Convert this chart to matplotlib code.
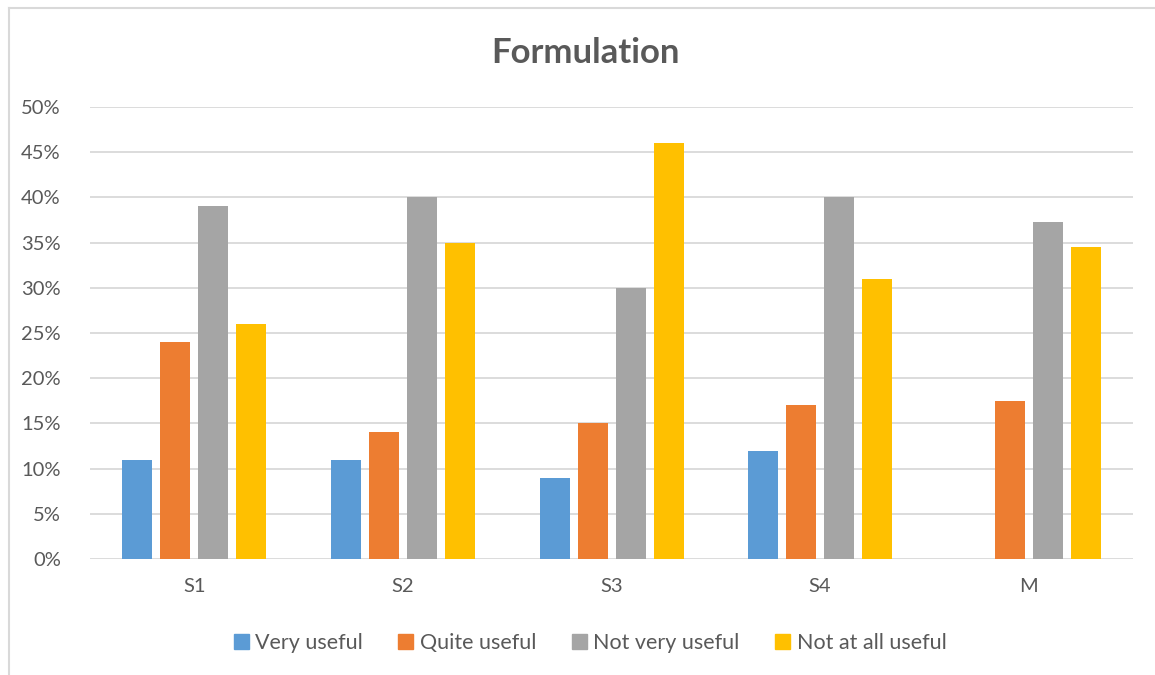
import matplotlib
matplotlib.use("Agg")
import matplotlib.pyplot as plt
import numpy as np
from matplotlib.lines import Line2D

categories = ["S1", "S2", "S3", "S4", "M"]
series_names = ["Very useful", "Quite useful", "Not very useful", "Not at all useful"]
very_useful = [0.11, 0.11, 0.09, 0.12, 0.0]
quite_useful = [0.24, 0.14, 0.15, 0.17, 0.175]
not_very_useful = [0.39, 0.40, 0.30, 0.40, 0.373]
not_at_all_useful = [0.26, 0.35, 0.46, 0.31, 0.345]
y_ticks = [0.0, 0.05, 0.10, 0.15, 0.20, 0.25, 0.30, 0.35, 0.40, 0.45, 0.50]
y_tick_labels = ["0%", "5%", "10%", "15%", "20%", "25%", "30%", "35%", "40%", "45%", "50%"]

colors = ["#5B9BD5", "#ED7D31", "#A5A5A5", "#FFC000"]
text_color = "#595959"
grid_color = "#D9D9D9"

plt.rcParams['font.family'] = ['Lato', 'DejaVu Sans']

fig = plt.figure(figsize=(11.55, 6.75), dpi=100)
ax = fig.add_axes([90/1155, 1-559/675, (1133-90)/1155, (559-107)/675])

x = np.arange(len(categories))
step = 38/208.6
width = 30/208.6
data = [very_useful, quite_useful, not_very_useful, not_at_all_useful]
for i, (vals, c, name) in enumerate(zip(data, colors, series_names)):
    ax.bar(x + (i - 1.5) * step, vals, width=width, color=c, label=name, zorder=3)

ax.set_xlim(-0.5, len(categories) - 0.5)
ax.set_ylim(0, 0.5)
ax.set_yticks(y_ticks)
ax.set_yticklabels(y_tick_labels)
ax.set_xticks(x)
ax.set_xticklabels(categories)
ax.tick_params(axis='both', length=0, labelsize=14.5, labelcolor=text_color)
ax.tick_params(axis='y', pad=21)
ax.tick_params(axis='x', pad=14)
ax.yaxis.grid(True, color=grid_color, linewidth=1.3, zorder=0)
for s in ax.spines.values():
    s.set_visible(False)

fig.text(586/1155, 1-53/675, "Formulation", ha='center', va='center',
         fontsize=25, fontweight='bold', color=text_color)

handles = [plt.Rectangle((0, 0), 1, 1, color=c) for c in colors]
fig.legend(handles, series_names, loc='center', bbox_to_anchor=(590/1155, 1-643/675),
           ncol=4, frameon=False, fontsize=15.5, labelcolor=text_color,
           handlelength=0.7, handleheight=0.7, handletextpad=0.3, columnspacing=1.65)

# chart border
fig.add_artist(Line2D([9/1155, 9/1155], [0, 1-8/675], color=grid_color, linewidth=1.5, transform=fig.transFigure))
fig.add_artist(Line2D([9/1155, 1], [1-8/675, 1-8/675], color=grid_color, linewidth=1.5, transform=fig.transFigure))

fig.savefig("out.png", dpi=100, facecolor="white")
